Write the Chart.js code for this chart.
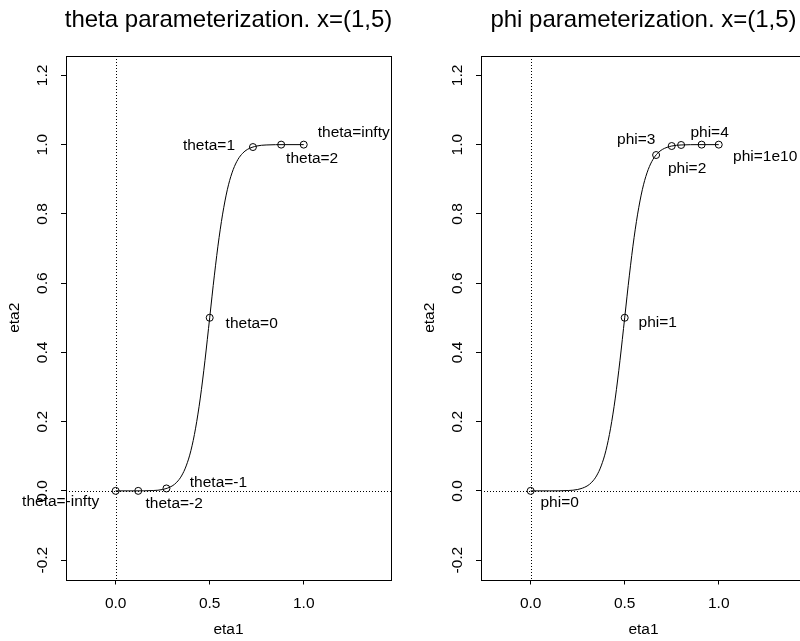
<!DOCTYPE html>
<html lang="en">
<head>
<meta charset="UTF-8">
<title>theta / phi parameterization</title>
<script src="https://cdn.jsdelivr.net/npm/chart.js"></script>
<style>
  html, body { margin: 0; padding: 0; background: #fff; }
  #wrap { position: relative; width: 800px; height: 641px; overflow: hidden; }
  #wrap canvas { position: absolute; top: 0; }
</style>
</head>
<body>
<div id="wrap">
  <canvas id="left" width="415" height="641" style="left:0"></canvas>
  <canvas id="right" width="415" height="641" style="left:415px"></canvas>
</div>
<script>
// curve eta2 vs eta1 (same curve in both panels)
const curveEta1 = [0, 0.1, 0.2, 0.25, 0.3, 0.325, 0.35, 0.375, 0.4, 0.425, 0.45, 0.475, 0.5,
                   0.525, 0.55, 0.575, 0.6, 0.625, 0.65, 0.675, 0.7, 0.75, 0.8, 0.9, 1.0];
const curveEta2 = [0, 0, 0.001, 0.004, 0.014, 0.025, 0.043, 0.072, 0.116, 0.181, 0.268, 0.377, 0.5,
                   0.623, 0.732, 0.819, 0.884, 0.928, 0.957, 0.975, 0.986, 0.996, 0.999, 1.0, 1.0];

// marked points
const thetaLabels = ['theta=-infty', 'theta=-2', 'theta=-1', 'theta=0', 'theta=1', 'theta=2', 'theta=infty'];
const thetaEta1 = [0, 0.12, 0.27, 0.5, 0.73, 0.88, 1.0];
const thetaEta2 = [0, 0.0, 0.007, 0.5, 0.993, 1.0, 1.0];

const phiLabels = ['phi=0', 'phi=1', 'phi=2', 'phi=3', 'phi=4', '', 'phi=1e10'];
const phiEta1 = [0, 0.5, 0.667, 0.75, 0.8, 0.909, 1.0];
const phiEta2 = [0, 0.5, 0.97, 0.996, 0.999, 1.0, 1.0];

const xTicks = [0, 0.5, 1.0];
const yTicks = [-0.2, 0, 0.2, 0.4, 0.6, 0.8, 1.0, 1.2];

const FONT = '"Liberation Sans", Arial, sans-serif';

// pixel offsets of each label's centre from its point
const thetaOffsets = [[-55, 11], [36, 13], [52, -6], [42, 6], [-44, -1], [31, 14], [50, -12]];
const phiOffsets = [[29, 12], [33, 5], [31, 13.5], [-35.5, -6], [28.5, -12], [0, 0], [46.5, 12]];

const toXY = (xs, ys) => xs.map((x, i) => ({ x: x, y: ys[i] }));

const decor = {
  id: 'decor',
  beforeDatasetsDraw(chart) {
    const { ctx, chartArea: a, scales } = chart;
    const x0 = Math.round(scales.x.getPixelForValue(0)) + 0.5;
    const y0 = Math.round(scales.y.getPixelForValue(0)) + 0.5;
    ctx.save();
    ctx.strokeStyle = '#000';
    ctx.lineWidth = 1;
    ctx.setLineDash([1, 2]);
    ctx.beginPath();
    ctx.moveTo(x0, a.top); ctx.lineTo(x0, a.bottom);
    ctx.moveTo(a.left, y0); ctx.lineTo(a.right, y0);
    ctx.stroke();
    ctx.restore();
  },
  afterDraw(chart, args, opts) {
    const { ctx, chartArea: a, scales } = chart;
    ctx.save();
    ctx.fillStyle = '#000';
    ctx.strokeStyle = '#000';
    ctx.lineWidth = 1;
    ctx.strokeRect(Math.round(a.left) + 0.5, Math.round(a.top) + 0.5,
                   Math.round(a.right - a.left), Math.round(a.bottom - a.top));

    // title
    const cx = (a.left + a.right) / 2;
    ctx.font = '24px ' + FONT;
    ctx.textAlign = 'center';
    ctx.textBaseline = 'alphabetic';
    ctx.fillText(opts.title, cx, 27);

    // axis titles
    ctx.font = '15.5px ' + FONT;
    ctx.textBaseline = 'middle';
    ctx.fillText('eta1', cx, 630);
    ctx.save();
    ctx.translate(15, (a.top + a.bottom) / 2);
    ctx.rotate(-Math.PI / 2);
    ctx.fillText('eta2', 0, 0);
    ctx.restore();

    // rotated y tick labels
    scales.y.ticks.forEach(t => {
      ctx.save();
      ctx.translate(43, scales.y.getPixelForValue(t.value));
      ctx.rotate(-Math.PI / 2);
      ctx.fillText(t.value.toFixed(1), 0, 0);
      ctx.restore();
    });

    // point labels
    const pts = chart.data.datasets[1].data;
    pts.forEach((p, i) => {
      if (!opts.labels[i]) return;
      const px = scales.x.getPixelForValue(p.x) + opts.offsets[i][0];
      const py = scales.y.getPixelForValue(p.y) + opts.offsets[i][1];
      ctx.fillText(opts.labels[i], px, py);
    });
    ctx.restore();
  }
};

function makePanel(id, title, ptX, ptY, labels, offsets) {
  new Chart(document.getElementById(id), {
    type: 'scatter',
    data: {
      datasets: [
        {
          data: toXY(curveEta1, curveEta2),
          showLine: true,
          pointRadius: 0,
          borderColor: '#000',
          borderWidth: 1,
          cubicInterpolationMode: 'monotone'
        },
        {
          data: toXY(ptX, ptY),
          showLine: false,
          pointRadius: 3.5,
          pointStyle: 'circle',
          borderColor: '#000',
          borderWidth: 1,
          backgroundColor: 'rgba(0,0,0,0)'
        }
      ]
    },
    options: {
      responsive: false,
      animation: false,
      layout: { padding: { top: 56, right: 24, left: 0, bottom: 0 } },
      plugins: {
        legend: { display: false },
        tooltip: { enabled: false },
        decor: { title: title, labels: labels, offsets: offsets }
      },
      scales: {
        x: {
          type: 'linear',
          min: -0.264,
          max: 1.464,
          afterBuildTicks: s => { s.ticks = xTicks.map(v => ({ value: v })); },
          afterFit: s => { s.height = 61.5; },
          ticks: {
            callback: v => v.toFixed(1),
            color: '#000',
            font: { family: FONT, size: 15.5 },
            padding: 10,
            maxRotation: 0,
            autoSkip: false
          },
          grid: { drawOnChartArea: false, tickLength: 5, color: '#000' },
          border: { display: false }
        },
        y: {
          type: 'linear',
          min: -0.256,
          max: 1.256,
          afterBuildTicks: s => { s.ticks = yTicks.map(v => ({ value: v })); },
          afterFit: s => { s.width = 66; },
          ticks: { display: false },
          grid: { drawOnChartArea: false, tickLength: 5, color: '#000' },
          border: { display: false }
        }
      }
    },
    plugins: [decor]
  });
}

makePanel('left', 'theta parameterization. x=(1,5)', thetaEta1, thetaEta2, thetaLabels, thetaOffsets);
makePanel('right', 'phi parameterization. x=(1,5)', phiEta1, phiEta2, phiLabels, phiOffsets);
</script>
</body>
</html>
